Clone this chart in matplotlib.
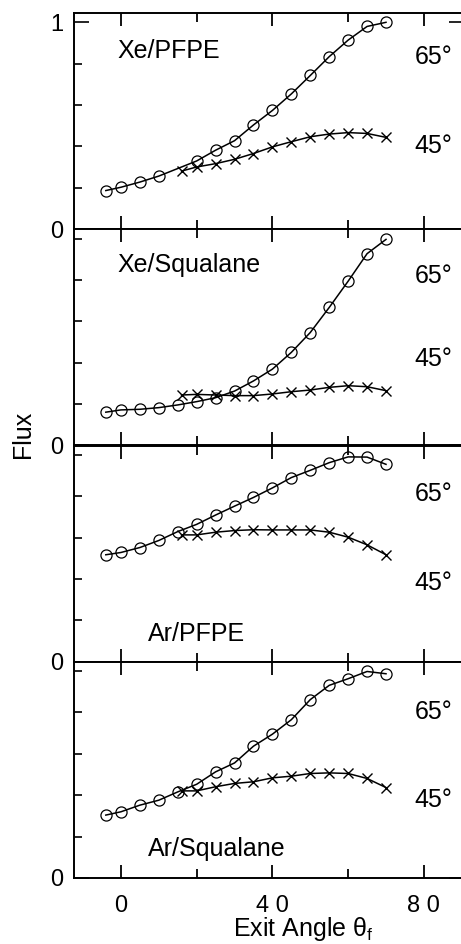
import matplotlib
matplotlib.use("Agg")
import matplotlib.pyplot as plt
from matplotlib.ticker import FixedLocator

plt.rcParams['font.family'] = ['Liberation Sans', 'DejaVu Sans']

# -----------------------------
# DATA
# -----------------------------
ang_65_top = [-4, 0, 5, 10, 20, 25, 30, 35, 40, 45, 50, 55, 60, 65, 70]
ang_65 = [-4, 0, 5, 10, 15, 20, 25, 30, 35, 40, 45, 50, 55, 60, 65, 70]
ang_45 = [16, 20, 25, 30, 35, 40, 45, 50, 55, 60, 65, 70]

xe_pfpe_65 = [0.187, 0.203, 0.228, 0.257, 0.330, 0.382, 0.428, 0.504, 0.574,
              0.654, 0.743, 0.834, 0.914, 0.980, 1.0]
xe_pfpe_45 = [0.281, 0.301, 0.317, 0.338, 0.366, 0.398, 0.423, 0.447, 0.460,
              0.467, 0.463, 0.444]

xe_sq_65 = [0.161, 0.172, 0.175, 0.183, 0.196, 0.212, 0.231, 0.263, 0.312,
            0.369, 0.450, 0.546, 0.667, 0.794, 0.927, 0.996]
xe_sq_45 = [0.244, 0.247, 0.244, 0.241, 0.241, 0.249, 0.260, 0.268, 0.281,
            0.289, 0.284, 0.265]

ar_pfpe_65 = [0.517, 0.528, 0.552, 0.586, 0.629, 0.664, 0.709, 0.752, 0.794,
              0.840, 0.890, 0.925, 0.962, 0.990, 0.989, 0.954]
ar_pfpe_45 = [0.613, 0.613, 0.626, 0.634, 0.638, 0.637, 0.637, 0.637, 0.626,
              0.602, 0.565, 0.517]

ar_sq_65 = [0.304, 0.320, 0.352, 0.376, 0.416, 0.453, 0.513, 0.556, 0.637,
            0.695, 0.765, 0.862, 0.931, 0.963, 0.998, 0.987]
ar_sq_45 = [0.421, 0.421, 0.441, 0.457, 0.465, 0.484, 0.492, 0.505, 0.508,
            0.505, 0.481, 0.437]

panel_names = ["Xe/PFPE", "Xe/Squalane", "Ar/PFPE", "Ar/Squalane"]
series_65 = [(ang_65_top, xe_pfpe_65), (ang_65, xe_sq_65),
             (ang_65, ar_pfpe_65), (ang_65, ar_sq_65)]
series_45 = [xe_pfpe_45, xe_sq_45, ar_pfpe_45, ar_sq_45]

# label positions (data coords)
name_pos = [(-1, 0.86), (-1, 0.87), (7, 0.135), (7, 0.14)]
lbl65_y = [0.83, 0.82, 0.81, 0.80]
lbl45_y = [0.40, 0.42, 0.38, 0.377]

# -----------------------------
# FIGURE
# -----------------------------
fig = plt.figure(figsize=(4.61, 9.44), dpi=100)

left = 74 / 461
width = (464 - 74) / 461
top = 1 - 13 / 944
bot = 1 - 878 / 944
h = (top - bot) / 4

axes = []
for i in range(4):
    ax = fig.add_axes([left, top - (i + 1) * h, width, h])
    axes.append(ax)

    x65, y65 = series_65[i]
    ax.plot(x65, y65, color="black", lw=1.1, marker="o", ms=8,
            mfc="none", mec="black", mew=0.9)
    ax.plot(ang_45, series_45[i], color="black", lw=1.1, marker="x", ms=7.5,
            mew=1.0)

    ax.set_xlim(-12.4, 90.6)
    ax.set_ylim(0, 1.045)

    for s in ax.spines.values():
        s.set_linewidth(1.4)

    ax.xaxis.set_major_locator(FixedLocator([0, 40, 80]))
    ax.xaxis.set_minor_locator(FixedLocator([20, 60]))
    ax.tick_params(axis="x", which="both", direction="in", top=True,
                   bottom=True, width=1.3, labelsize=17, pad=12)
    ax.tick_params(axis="x", which="major", length=9.5)
    ax.tick_params(axis="x", which="minor", length=6.5)

    if i == 0:
        ax.set_yticks([0, 1])
        ax.set_yticklabels(["0", "1"])
        ax.yaxis.set_minor_locator(FixedLocator([0.2, 0.4, 0.6, 0.8]))
    else:
        ax.set_yticks([0])
        ax.set_yticklabels(["0"])
        ax.yaxis.set_minor_locator(FixedLocator([0.2, 0.4, 0.6, 0.8, 1.0]))
    ax.tick_params(axis="y", which="both", direction="in", left=True,
                   width=1.2, labelsize=17, pad=8)
    ax.tick_params(axis="y", which="major", length=11, right=True)
    ax.tick_params(axis="y", which="minor", length=6, right=False)

    if i < 3:
        ax.tick_params(axis="x", labelbottom=False)
    else:
        ax.set_xticklabels(["0", "4 0", "8 0"])

    nx, ny = name_pos[i]
    ax.text(nx, ny, panel_names[i], fontsize=18, ha="left", va="center")
    ax.text(77.5, lbl65_y[i], "65°", fontsize=18, ha="left", va="center")
    ax.text(77.5, lbl45_y[i], "45°", fontsize=18, ha="left", va="center")

axes[-1].set_xlabel("Exit Angle θ$_\\mathregular{f}$", fontsize=18)
axes[-1].xaxis.set_label_coords(0.588, -0.17)

fig.text(23 / 461, 1 - 434 / 944, "Flux", rotation=90, fontsize=18,
         ha="center", va="center")

fig.savefig("out.png", dpi=100)
